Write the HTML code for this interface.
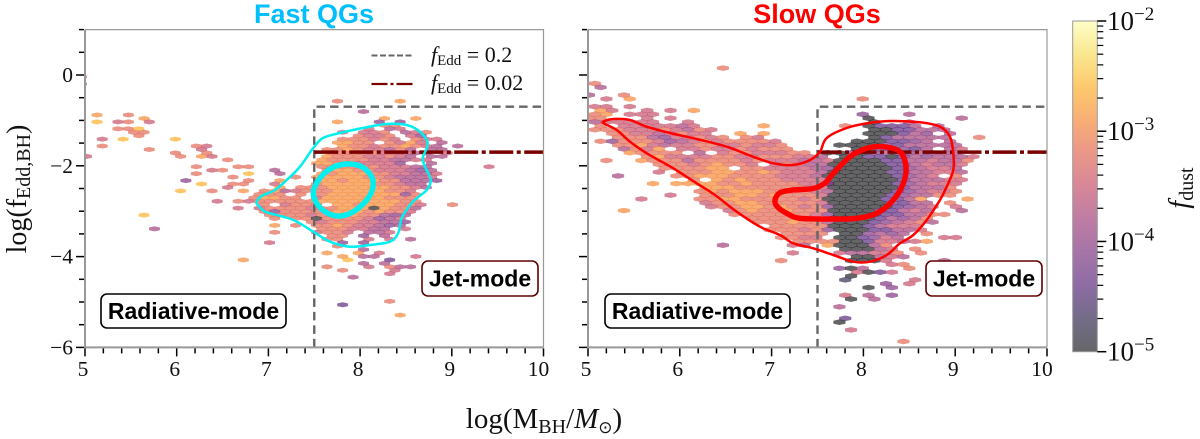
<!DOCTYPE html>
<html lang="en">
<head>
<meta charset="utf-8">
<title>Fast and slow QGs: black hole mass vs Eddington fraction</title>
<style>
html,body{margin:0;padding:0;background:#fff;width:1200px;height:439px;overflow:hidden}
svg{display:block}
text{font-family:"Liberation Serif",serif;fill:#111}
.b{font-family:"Liberation Sans",sans-serif;font-weight:700}
</style>
</head>
<body>
<svg id="fig" xmlns="http://www.w3.org/2000/svg" width="1200" height="439" viewBox="0 0 1200 439">
<defs>
<clipPath id="clip-fast"><rect x="85" y="29.5" width="458.5" height="318"/></clipPath>
<clipPath id="clip-slow"><rect x="588" y="29.5" width="459" height="318"/></clipPath>
<linearGradient id="cbar-gradient" x1="0" y1="1" x2="0" y2="0"></linearGradient>
</defs>
<rect width="1200" height="439" fill="#fff"/>
<g id="panel-fast"></g>
<g id="panel-slow"></g>
<text class="b" x="314" y="23" text-anchor="middle" font-size="27" style="fill:#00bfff">Fast QGs</text>
<text class="b" x="817" y="23" text-anchor="middle" font-size="27" style="fill:#ff0000">Slow QGs</text>
<text transform="translate(26,189) rotate(-90)" text-anchor="middle" font-size="28">log(f<tspan font-size="20" dy="4">Edd,BH</tspan><tspan dy="-4">)</tspan></text>
<text x="544" y="428" text-anchor="middle" font-size="29">log(M<tspan font-size="20" dy="5">BH</tspan><tspan dy="-5">/</tspan><tspan font-style="italic">M</tspan><tspan font-size="17" dy="5" style="font-family:'DejaVu Sans',sans-serif">⊙</tspan><tspan dy="-5">)</tspan></text>
<g>
<line x1="371.5" x2="413.5" y1="55.5" y2="55.5" stroke="#666" stroke-width="2" stroke-dasharray="6 2.5"/>
<text x="431" y="62" font-size="22"><tspan font-style="italic">f</tspan><tspan font-size="15" dy="3">Edd</tspan><tspan dy="-3"> = 0.2</tspan></text>
<line x1="371.5" x2="413.5" y1="84" y2="84" stroke="#7a0000" stroke-width="2.2" stroke-dasharray="16 3 3 3"/>
<text x="431" y="90" font-size="22"><tspan font-style="italic">f</tspan><tspan font-size="15" dy="3">Edd</tspan><tspan dy="-3"> = 0.02</tspan></text>
</g>
<g id="colorbar"></g>
<text transform="translate(1188,188) rotate(-90)" text-anchor="middle" font-size="28"><tspan font-style="italic">f</tspan><tspan font-size="20" dy="5">dust</tspan></text>
</svg>
<script>
// ---- data ----------------------------------------------------------------
const xMajorTicks = [5, 6, 7, 8, 9, 10];
const xMinorTicks = [5.2,5.4,5.6,5.8,6.2,6.4,6.6,6.8,7.2,7.4,7.6,7.8,8.2,8.4,8.6,8.8,9.2,9.4,9.6,9.8];
const yMajorTicks = [0, -2, -4, -6];
const yMinorTicks = [1, 0.5, -0.5, -1, -1.5, -2.5, -3, -3.5, -4.5, -5, -5.5];
const xTickLabels = ["5", "6", "7", "8", "9", "10"];
const yTickLabels = ["0", "\u22122", "\u22124", "\u22126"];
const cbarDecades = [-5, -4, -3, -2];
const cbarLabels = ["\u22125", "\u22124", "\u22123", "\u22122"];
const cbarMinorMultiples = [2, 3, 4, 5, 6, 7, 8, 9];
const infernoStops = ["#000004","#160b39","#420a68","#6a176e","#932667","#bc3754","#dd513a","#f37819","#fca50a","#f6d746","#fcffa4"];

// hexbin bins: [row, first column, [dust level per column]]; level 0 = empty bin,
// each level step is 0.3 dex in log10(f_dust), level 1 = -5
const fastBins = [
[-11,-2,[6]],[-9,-2,[4]],
[-4,23,[7,0,0,0,0,0,8]],[-1,25,[5]],
[0,0,[8,0,0,7]],[1,4,[8]],[1,27,[8,0,0,8]],
[2,0,[9,0,6,7,0,6]],[2,23,[8,0,0,0,4,0,4]],[3,27,[7,7]],
[4,2,[7,7,9]],[4,26,[6,0,5,6]],[5,3,[7,7]],[5,23,[6,0,6,6,7,0,5,6,7]],
[6,4,[7]],[6,25,[7,6,6,7,0,6,4]],
[7,0,[6,0,9,0,0,0,0,9]],[7,23,[7,7,7,6,7,6,0,7,6,6]],
[8,23,[8,8,7,7,0,7,6,8,6,0,5]],
[9,0,[7]],[9,9,[7,6]],[9,23,[8,7,7,6,7,7,8,7,6,5,0,5]],
[10,5,[7]],[10,10,[6]],[10,22,[7,7,8,7,6,6,5,7,5,0,5,5]],
[11,7,[7]],[11,10,[7]],[11,22,[7,7,7,7,7,6,6,6,5,5,0,6]],
[12,-1,[6]],[12,8,[7,0,8,6]],[12,22,[8,7,7,7,6,6,7,6,5,0,5,5]],
[13,12,[7]],[13,21,[8,7,7,7,7,6,6,5,5,6,6]],
[14,21,[8,8,7,7,6,6,6,6,4,0,0,5]],
[15,9,[7]],[15,13,[7,7]],[15,21,[7,7,7,7,7,7,6,6,6,5,5,0,0,0,0,0,6]],
[16,11,[6,7]],[16,17,[5]],[16,22,[7,8,8,7,7,6,6,6,5,4,5]],
[17,9,[7]],[17,14,[9]],[17,17,[5]],[17,21,[8,7,8,8,8,7,7,6,6,5,5,6]],
[18,13,[7]],[18,19,[7]],[18,21,[8,8,8,8,8,7,7,6,5,5,5,6]],
[19,8,[4]],[19,14,[7]],[19,17,[8]],[19,21,[8,8,7,8,8,8,7,7,5,5,5,4]],
[20,10,[9]],[20,13,[7,7]],[20,17,[6]],[20,21,[7,8,8,8,8,8,7,7,6,5,5]],
[21,12,[6]],[21,17,[8]],[21,19,[7,7,7,8,8,8,8,8,8,7,7,6,5]],
[22,8,[9]],[22,11,[7]],[22,14,[8]],[22,16,[7,8,5,6,7,7,7,8,8,8,8,8,7,7,6]],
[23,15,[7,7,7,0,7,0,7,8,8,8,8,8,8,8,4,7]],
[24,15,[7,8,8,7,7,0,6,8,8,8,8,8,8,7,7,7]],
[25,11,[6,0,7,6,7,7,7,7,7,7,8,8,8,8,8,8,8,8,7,7]],
[26,16,[7,0,6,7,7,7,0,8,8,7,8,8,8,7,7,6]],[26,34,[7]],
[27,13,[6,0,6,7,7,7,7,6,7,7,8,8,8,1,8,7,7,5]],
[28,16,[7,4,7,7,7,7,7,8,8,8,7,8,7,7,6]],
[29,4,[9]],[29,16,[7,7,7,7,6,7,7,8,8,7,7,5,4,5]],
[30,17,[7,0,7,7,1,7,7,7,7,6,4,5,6]],
[31,20,[7,6,7,7,7,6,6,5,5,4]],
[32,17,[8,0,7,0,7,7,8,7,6,6,5,4,5]],
[33,5,[5]],[33,21,[7,7,7,6,6,5,5,0,6]],
[34,17,[7,0,0,0,6,7,7,6,0,5,5,6]],
[35,22,[7,7,0,4,0,5]],[36,22,[7,7,0,0,6,0,6,0,5]],
[37,16,[6]],[37,23,[4,0,4]],[38,23,[7]],[39,25,[5]],
[40,22,[8,0,0,8,0,6]],[41,23,[8,0,5,5,0,0,0,6]],
[42,14,[8]],[42,24,[9,0,0,0,3]],[43,25,[5,0,5]],
[44,22,[7,0,0,0,6,0,7,5,5]],[45,23,[7,0,0,0,0,6]],
[46,28,[6]],[47,24,[5]],[54,28,[7]],[55,23,[3]],[58,29,[8]]
];

const slowBins = [
[-12,12,[7]],[-8,1,[7]],[-7,1,[5]],[-5,0,[5,0,0,7]],[-4,2,[6,0,8]],[-4,24,[7]],
[-2,1,[6,6,0,6]],[-1,1,[8,6,0,0,6,0,6,0,8]],
[0,1,[7,8,0,6,6,6]],[0,24,[4,0,0,0,5]],
[1,0,[7,7,0,0,0,6,0,6]],[1,24,[1,0,0,0,0,0,0,0,5]],
[2,1,[5,6,6,6,6,6,0,0,6]],[2,25,[1,0,0,5]],
[3,1,[7,0,6,6,6,6,6,5,6,0,0,0,0,0,8]],[3,22,[7,0,1,3,3,3,5,0,5]],
[4,1,[7,7,7,6,6,6,7,6,5,7,6]],[4,25,[1,1,3,3,5,5,5]],
[5,2,[7,7,6,6,5,6,7,6,6,0,0,8,0,8]],[5,24,[1,1,1,3,5,4,0,5]],
[6,3,[7,7,7,5,4,6,6,7,6,7,0,7,6]],[6,25,[1,3,5,5,5,5,5,0,0,7]],
[7,1,[7,4,7,7,7,6,4,5,6,7,6,7,7,7,7,6]],[7,23,[1,1,1,3,3,4,5,0,5]],
[8,3,[7,7,8,6,5,6,6,7,7,6,6,7,6,6,7]],[8,22,[1,1,1,1,4,3,5,5,5,5,5]],
[9,3,[5,7,6,8,0,6,6,7,6,6,7,6,7,7,7]],[9,23,[1,1,3,3,4,3,5,0,5,6]],
[10,4,[8,7,7,7,7,0,5,0,6,7,7,6,6,6,7,7]],[10,21,[1,1,4,1,4,5,4,4,5,5,5,5]],
[11,5,[7,8,6,6,6,6,7,7,6,6,7,7,7,6,6,5]],[11,22,[1,1,3,3,1,3,5,4,5,5,5,6]],
[12,2,[7]],[12,5,[8,7,7,7,5,7,7,7,7,6,7,6,6,6,5,5,6]],[12,22,[1,1,1,1,3,3,5,5,6,5,5,7]],
[13,6,[7,7,7,6,7,8,7,7,6,0,6,7,6,5,5]],[13,21,[1,1,1,1,1,3,3,5,6,5,5,6]],
[14,7,[7,7,7,7,8,8,0,7,7,6,6,6,6,5]],[14,21,[4,1,1,1,1,1,3,4,5,6,6,5]],
[15,6,[6,0,7,7,7,8,8,7,7,8,7,6,6,6,5]],[15,21,[1,1,1,1,1,3,3,5,5,6,6,5]],
[16,3,[5]],[16,8,[7,7,8,8,8,7,7,7,7,6,6,6,5]],[16,21,[1,1,1,1,1,1,3,4,5,6,0,7]],
[17,9,[7,0,8,7,8,7,7,7,6,6,6,6]],[17,21,[1,1,1,1,1,1,3,5,5,5,6,6]],
[18,6,[8,0,8,8,8,8,7,7,8,7,7,7,7,6,6,5]],[18,21,[4,1,1,1,1,1,3,4,5,6,6,6]],
[19,10,[8,8,8,7,7,7,7,7,7,6,6]],[19,21,[1,1,1,1,1,1,3,5,5,5,7]],
[20,10,[7,8,7,8,8,8,7,7,7,7,6]],[20,21,[5,1,1,1,1,1,3,4,5,6,6,7]],
[21,7,[6,0,0,7,7,7,8,8,7,8,7,7,7,6]],[21,21,[1,1,1,1,1,3,4,5,5,7,7]],
[22,5,[6,0,0,0,0,7,7,8,8,7,7,7,7,7,6,7]],[22,21,[1,1,1,1,1,3,3,5,8,0,0,0,8]],
[23,10,[6,7,7,8,8,7,7,7,7,7,6]],[23,21,[1,1,1,1,1,4,3,5,5,0,7]],
[24,11,[6,7,7,8,8,7,8,7,6,7]],[24,21,[4,1,1,1,1,1,3,4,5,6,0,6]],
[25,3,[8]],[25,12,[6,7,8,7,7,8,7,7,7]],[25,21,[1,1,1,1,3,3,5,6,5,0,0,5]],
[26,13,[7,7,7,7,7,7,7,6]],[26,21,[4,1,1,1,1,3,3,5,5,7,7]],
[27,14,[7,7,7,7,7,6,7]],[27,21,[1,1,1,1,3,5,4,5,7]],
[28,15,[7,7,7,8,7,7]],[28,21,[5,1,1,1,3,4,5,6,7,5]],
[29,16,[7,7,7,7,7]],[29,21,[1,1,1,3,5,6,6,6]],
[30,16,[7,7,7,6,7]],[30,21,[4,1,1,1,3,3,5,5,6]],
[31,17,[7,7,7,7]],[31,22,[1,1,4,5,4,5,0,7]],
[32,17,[7,7,6,6]],[32,22,[1,1,3,4,6,5,0,0,0,6,6]],
[33,18,[7,7,7]],[33,21,[7,1,1,3,6,6,5,6,8]],
[34,12,[5]],[34,18,[6,5,0,8,1,1,1,5,7]],
[35,22,[1,1,1,5,6,0,7]],[36,18,[6]],[36,22,[6,5,5,6,6,7,0,7]],
[37,23,[1,1,5,6,5]],[38,17,[7]],[38,23,[1,1,1,6]],[38,31,[5]],
[39,26,[6,7]],[40,22,[4,1,5,0,0,0,7]],[41,23,[6,1,3,6]],[42,23,[1]],
[43,22,[2]],[43,28,[6]],[44,26,[4,0,6]],[45,24,[1,0,4]],
[47,22,[6,0,5,0,4]],[48,23,[1,0,5]],[50,22,[5]],[53,22,[3]],[54,22,[1]],[56,23,[6]],[59,27,[7]]
];

const fastOuterX = [6.872,6.927,7.072,7.2,7.345,7.486,7.595,7.78,8.03,8.29,8.508,8.653,8.733,8.726,8.683,8.708,8.77,8.726,8.617,8.544,8.454,8.416,8.326,8.108,7.89,7.672,7.49,7.272,7.017,6.963,6.883];
const fastOuterY = [-2.79,-2.665,-2.533,-2.313,-2.02,-1.614,-1.388,-1.278,-1.167,-1.079,-1.101,-1.249,-1.469,-1.615,-1.835,-2.02,-2.313,-2.533,-2.716,-2.863,-3.15,-3.48,-3.672,-3.744,-3.782,-3.672,-3.452,-3.194,-3.046,-3.011,-2.863];
const fastInnerX = [7.49,7.563,7.69,7.854,8.017,8.126,8.137,8.072,7.926,7.78,7.636,7.527];
const fastInnerY = [-2.57,-2.269,-2.048,-1.96,-2.02,-2.24,-2.496,-2.753,-3.011,-3.106,-3.033,-2.826];
const slowOuterX = [5.167,5.276,5.458,5.639,5.893,6.184,6.511,6.797,7.019,7.236,7.418,7.527,7.6,7.818,8.036,8.29,8.617,8.834,8.943,8.979,8.979,8.907,8.834,8.69,8.544,8.399,8.254,8.072,7.89,7.672,7.454,7.236,7.092,6.874,6.62,6.383,6.184,5.929,5.639,5.458,5.313,5.185];
const slowOuterY = [-1.029,-0.969,-0.991,-1.139,-1.278,-1.41,-1.579,-1.8,-1.945,-1.982,-1.872,-1.689,-1.388,-1.167,-1.064,-1.013,-1.042,-1.139,-1.359,-1.725,-2.093,-2.46,-2.753,-3.194,-3.524,-3.707,-3.965,-4.112,-4.112,-3.965,-3.817,-3.707,-3.524,-3.341,-3.011,-2.643,-2.385,-2.055,-1.725,-1.469,-1.211,-1.079];
const slowInnerX = [7.037,7.092,7.236,7.454,7.582,7.672,7.854,8.036,8.217,8.399,8.464,8.435,8.326,8.145,7.927,7.672,7.309,7.165,7.062];
const slowInnerY = [-2.753,-2.593,-2.533,-2.5,-2.379,-2.165,-1.8,-1.615,-1.579,-1.689,-2.02,-2.385,-2.753,-3.046,-3.156,-3.172,-3.156,-3.046,-2.901];

const logFEddHigh = Math.log10(0.2);
const logFEddLow = Math.log10(0.02);
const logMassCut = 7.5;

// ---- helpers ------------------------------------------------------------
const NS = "http://www.w3.org/2000/svg";
function mk(tag, parent, attrs) {
  const el = document.createElementNS(NS, tag);
  for (const k in attrs) el.setAttribute(k, attrs[k]);
  parent.appendChild(el);
  return el;
}
function hexToRgb(h) { return [1, 3, 5].map(i => parseInt(h.substr(i, 2), 16)); }
function inferno(t) {
  const p = Math.min(0.9999, Math.max(0, t)) * (infernoStops.length - 1);
  const i = Math.floor(p), f = p - i;
  const a = hexToRgb(infernoStops[i]), b = hexToRgb(infernoStops[i + 1]);
  return "rgb(" + a.map((v, j) => Math.round(v + (b[j] - v) * f)).join(",") + ")";
}
function levelToLogDust(level) { return -5 + 0.3 * (level - 1); }
function smoothClosed(xs, ys) {
  const n = xs.length;
  let d = "M" + xs[0].toFixed(1) + " " + ys[0].toFixed(1);
  for (let i = 0; i < n; i++) {
    const a = (i - 1 + n) % n, b = (i + 1) % n, c = (i + 2) % n;
    d += "C" + (xs[i] + (xs[b] - xs[a]) / 6).toFixed(1) + " " + (ys[i] + (ys[b] - ys[a]) / 6).toFixed(1) +
         " " + (xs[b] - (xs[c] - xs[i]) / 6).toFixed(1) + " " + (ys[b] - (ys[c] - ys[i]) / 6).toFixed(1) +
         " " + xs[b].toFixed(1) + " " + ys[b].toFixed(1);
  }
  return d + "Z";
}

function drawPanel(cfg) {
  const g = document.getElementById(cfg.id);
  const px = v => cfg.left + (v - 5) * (cfg.right - cfg.left) / 5;
  const py = v => 75 - v * 45.4;

  // hexbin
  const hexGroup = mk("g", g, { "clip-path": "url(#" + cfg.clip + ")" });
  
  
  cfg.bins.forEach(entry => {
    const row = entry[0], first = entry[1], levels = entry[2];
    levels.forEach((level, idx) => {
      if (!level) return;
      const cx = cfg.x0 + cfg.dx * (first + idx + (((row % 2) + 2) % 2) / 2);
      const cy = cfg.y0 - cfg.dy * row;
      const hw = cfg.dx / 2, tip = cfg.dy * 2 / 3, side = cfg.dy / 3;
      const verts = [[hw, -side], [hw, side], [0, tip], [-hw, side], [-hw, -side], [0, -tip]];
      const hex = mk("polygon", hexGroup, {
        points: verts.map(v => px(cx + v[0]).toFixed(2) + "," + py(cy + v[1]).toFixed(2)).join(" "),
        fill: inferno((levelToLogDust(level) + 5) / 3),
        stroke: inferno((levelToLogDust(level) + 5) / 3),
        "stroke-width": "0.5",
        opacity: "0.6"
      });
      
      
    });
  });

  // reference lines
  const lineGroup = mk("g", g, {});
  
  
  const boundary = mk("path", lineGroup, {
    d: "M" + px(logMassCut) + " " + py(-6) + "V" + py(logFEddHigh) + "H" + px(10),
    fill: "none", stroke: "#666", "stroke-width": "2.4", "stroke-dasharray": "8.5 5"
  });
  
  
  const lowLine = mk("line", lineGroup, {
    x1: px(logMassCut), x2: px(10), y1: py(logFEddLow), y2: py(logFEddLow),
    stroke: "#7a0000", "stroke-width": "3.6", "stroke-dasharray": "24 3.5 4 3.5"
  });
  
  

  // contours
  const outer = mk("path", g, {
    d: smoothClosed(cfg.outerX.map(px), cfg.outerY.map(py)),
    fill: "none", stroke: cfg.color, "stroke-width": "2.5"
  });
  
  
  const inner = mk("path", g, {
    d: smoothClosed(cfg.innerX.map(px), cfg.innerY.map(py)),
    fill: "none", stroke: cfg.color, "stroke-width": "5.4"
  });
  
  

  // frame
  const top = py(1), bottom = py(-6);
  const frame = mk("path", g, {
    d: "M" + px(5) + " " + top + "H" + px(10) + "V" + bottom,
    fill: "none", stroke: "#999", "stroke-width": "1.2"
  });
  
  
  const spines = mk("path", g, {
    d: "M" + px(5) + " " + top + "V" + bottom + "H" + px(10),
    fill: "none", stroke: "#999", "stroke-width": "2"
  });
  
  

  // ticks
  const tickGroup = mk("g", g, { stroke: "#000", "stroke-width": "1.5" });
  
  
  xMinorTicks.forEach(v => {
    const t = mk("line", tickGroup, { x1: px(v), x2: px(v), y1: bottom + 1, y2: bottom + 6 });
    
    
  });
  xMajorTicks.forEach((v, i) => {
    const t = mk("line", tickGroup, { x1: px(v), x2: px(v), y1: bottom + 1, y2: bottom + 9 });
    
    
    const lab = mk("text", g, { x: px(v) - (v === 10 ? 5 : 2), y: 376, "text-anchor": "middle", "font-size": "21.5" });
    lab.textContent = xTickLabels[i];
    
    
  });
  yMinorTicks.forEach(v => {
    const t = mk("line", tickGroup, { x1: px(5) - 6, x2: px(5) - 1, y1: py(v), y2: py(v) });
    
    
  });
  yMajorTicks.forEach((v, i) => {
    const t = mk("line", tickGroup, { x1: px(5) - 9, x2: px(5) - 1, y1: py(v), y2: py(v) });
    
    
    if (cfg.showYLabels) {
      const lab = mk("text", g, { x: px(5) - 12, y: py(v) + 7, "text-anchor": "end", "font-size": "21.5" });
      lab.textContent = yTickLabels[i];
      
      
    }
  });

  // annotation boxes
  cfg.boxes.forEach(b => {
    const rect = mk("rect", g, { x: b.x, y: b.y, width: b.w, height: b.h, rx: 6, fill: "#fff", stroke: b.stroke, "stroke-width": "1.6" });
    
    
    const text = mk("text", g, { x: b.x + b.w / 2, y: b.y + b.h / 2 + 8, "text-anchor": "middle", "font-size": "23", class: "b" });
    text.textContent = b.label;
    
    
    text.style.fill = "#000";
  });
}

drawPanel({
  id: "panel-fast", clip: "clip-fast", left: 85, right: 543.5, bins: fastBins,
  x0: 5.131, y0: -0.881, dx: 0.114, dy: 0.076, color: "#00f0f0", showYLabels: true,
  outerX: fastOuterX, outerY: fastOuterY, innerX: fastInnerX, innerY: fastInnerY,
  boxes: [
    { name: "radiative-mode", label: "Radiative-mode", x: 101, y: 294, w: 185, h: 34, stroke: "#000" },
    { name: "jet-mode", label: "Jet-mode", x: 422, y: 261, w: 116, h: 35, stroke: "#600000" }
  ]
});
drawPanel({
  id: "panel-slow", clip: "clip-slow", left: 588, right: 1047, bins: slowBins,
  x0: 4.947, y0: -0.866, dx: 0.1269, dy: 0.0848, color: "#ff0000", showYLabels: false,
  outerX: slowOuterX, outerY: slowOuterY, innerX: slowInnerX, innerY: slowInnerY,
  boxes: [
    { name: "radiative-mode", label: "Radiative-mode", x: 605, y: 294, w: 185, h: 34, stroke: "#000" },
    { name: "jet-mode", label: "Jet-mode", x: 926, y: 261, w: 116, h: 35, stroke: "#600000" }
  ]
});

// colorbar
(function () {
  const g = document.getElementById("colorbar");
  const grad = document.getElementById("cbar-gradient");
  infernoStops.forEach((c, i) => {
    mk("stop", grad, { offset: i / (infernoStops.length - 1), "stop-color": c, "stop-opacity": "0.6" });
  });
  const top = 21, bottom = 351.7, left = 1072.7, right = 1097.3;
  const cy = v => bottom - (v + 5) * (bottom - top) / 3;
  const bar = mk("rect", g, { x: left, y: top, width: right - left, height: bottom - top, fill: "url(#cbar-gradient)", stroke: "#999", "stroke-width": "1" });
  
  
  cbarDecades.forEach((d, i) => {
    const tick = mk("line", g, { x1: right, x2: right + 9, y1: cy(d), y2: cy(d), stroke: "#000", "stroke-width": "1.5" });
    
    
    const lab = mk("text", g, { x: 1107, y: cy(d) + 9, "font-size": "27" });
    
    
    lab.appendChild(document.createTextNode("10"));
    const sup = mk("tspan", lab, { "font-size": "19", dy: "-10" });
    sup.textContent = cbarLabels[i];
    if (d < -2) {
      cbarMinorMultiples.forEach(m => {
        const v = d + Math.log10(m);
        const minor = mk("line", g, { x1: right, x2: right + 6, y1: cy(v), y2: cy(v), stroke: "#000", "stroke-width": "1.2" });
        
        
      });
    }
  });
})();
</script>
</body>
</html>
